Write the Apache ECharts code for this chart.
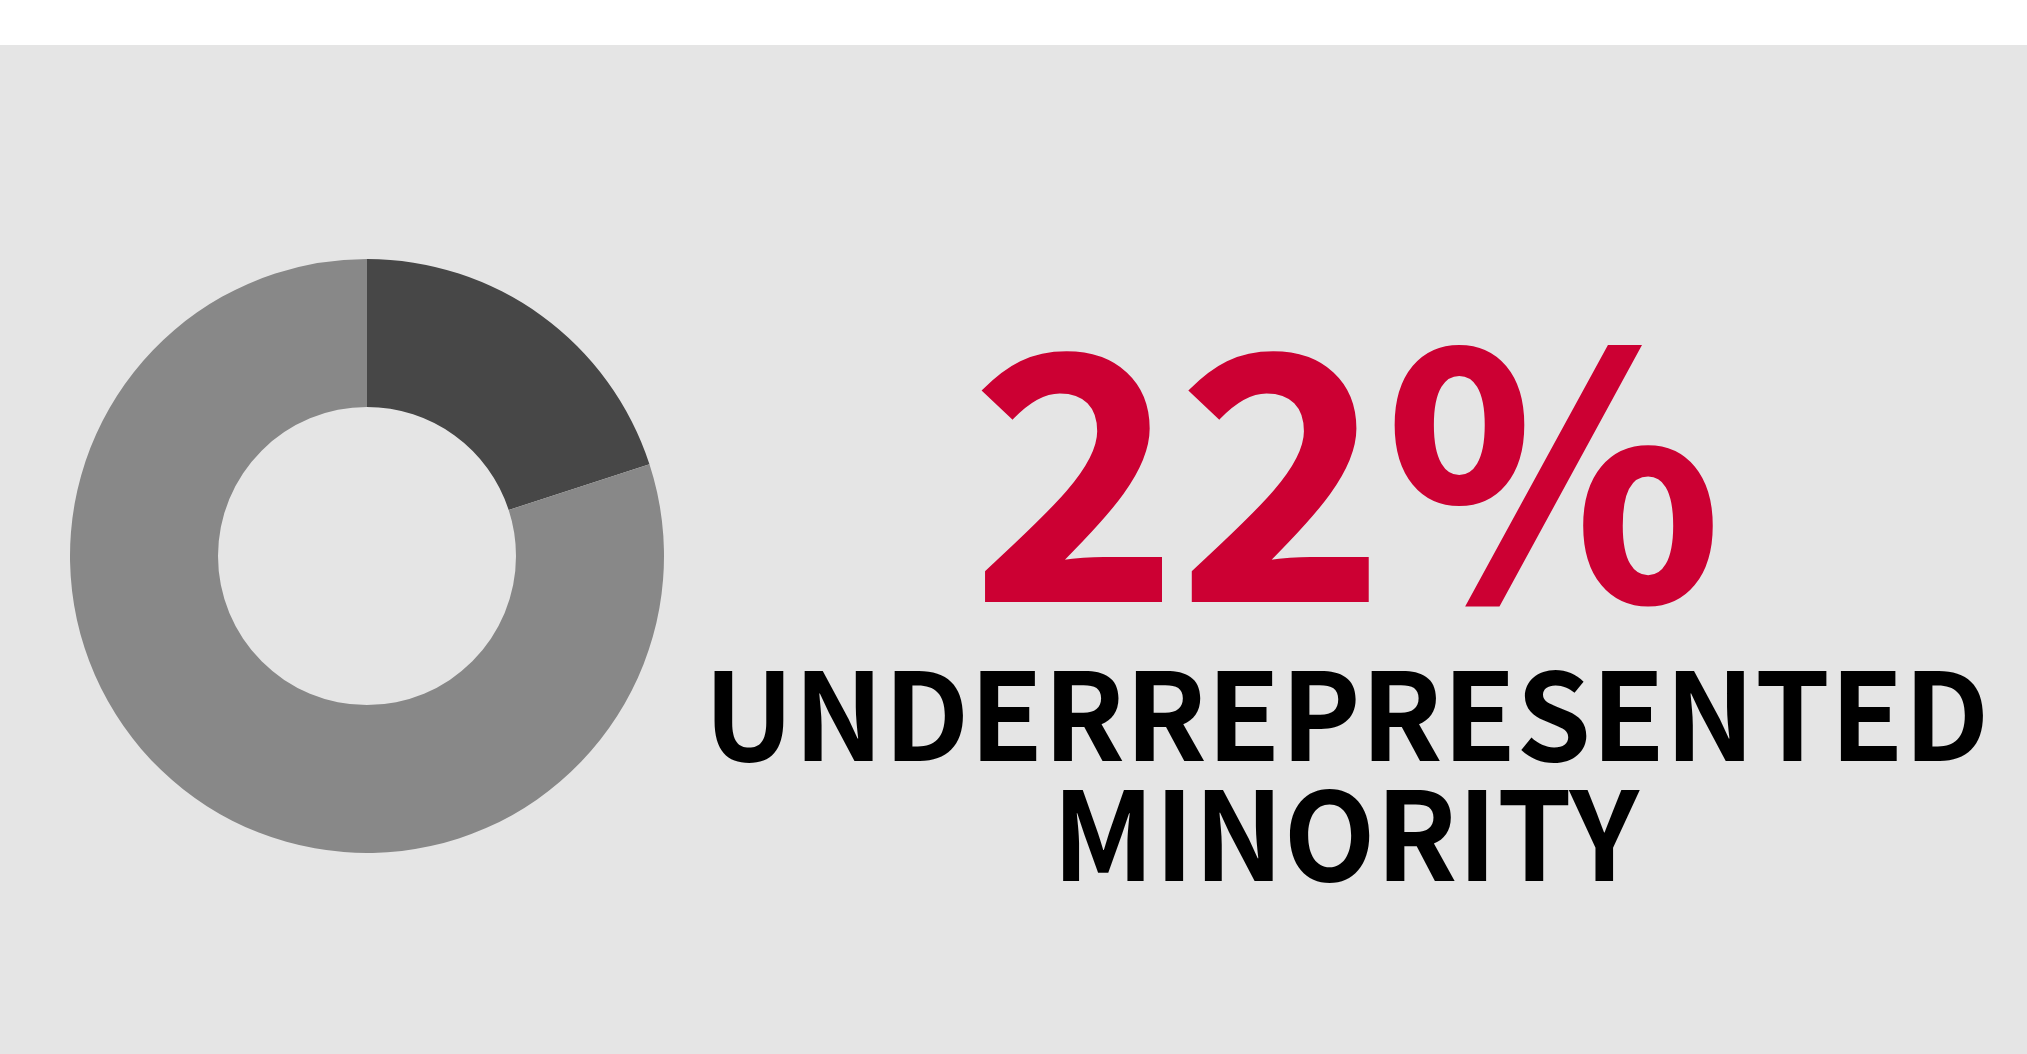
<!DOCTYPE html>
<html>
<head>
<meta charset="utf-8">
<script src="https://cdn.jsdelivr.net/npm/echarts@6/dist/echarts.min.js"></script>
<style>
html,body{margin:0;padding:0;width:100%;height:100%;background:#ffffff;overflow:hidden;}
#chart{width:2027px;height:1054px;}
</style>
</head>
<body>
<div id="chart"></div>
<script>
// Data
var categories = ['Underrepresented minority', 'Other'];
var values = [20, 80];
var sliceColors = ['#474747', '#888888'];
var headline = '22%';
var captionLines = ['UNDERREPRESENTED', 'MINORITY'];

var FAMILY = '"Noto Sans CJK SC", "Source Sans Pro", "Noto Sans", sans-serif';

// Fit a text's ink box into a target box (layout only)
function fitText(text, box, color, weight, stroke) {
  stroke = stroke || 0;
  var c = document.createElement('canvas').getContext('2d');
  c.font = weight + ' 100px ' + FAMILY;
  c.textBaseline = 'middle';
  c.textAlign = 'left';
  var m = c.measureText(text);
  var inkH = m.actualBoundingBoxAscent + m.actualBoundingBoxDescent;
  var fs = 100 * (box.bottom - box.top - stroke) / inkH;
  var font = weight + ' ' + fs + 'px ' + FAMILY;
  c.font = font;
  m = c.measureText(text);
  var inkW = m.actualBoundingBoxLeft + m.actualBoundingBoxRight;
  var s = (box.right - box.left - stroke) / inkW;
  var x = box.left + stroke / 2 + m.actualBoundingBoxLeft * s;
  var y = box.top + stroke / 2 + m.actualBoundingBoxAscent;
  var style = {text: text, fill: color, font: font, align: 'left', verticalAlign: 'middle'};
  if (stroke) { style.stroke = color; style.lineWidth = stroke; style.lineJoin = 'miter'; }
  return {type: 'text', x: x, y: y, scaleX: s, silent: true, style: style};
}

function render() {
  var chart = echarts.init(document.getElementById('chart'), null, {renderer: 'canvas'});
  var option = {
    backgroundColor: '#e5e5e5',
    animation: false,
    graphic: [
      {type: 'rect', shape: {x: 0, y: 0, width: 2027, height: 45}, style: {fill: '#ffffff'}, silent: true},
      fitText(headline, {left: 981, right: 1715, top: 341, bottom: 600}, '#cc0033', 'bold', 3),
      fitText(captionLines[0], {left: 714, right: 1983, top: 670, bottom: 762}, '#000000', 'bold', 0),
      fitText(captionLines[1], {left: 1063, right: 1640, top: 789, bottom: 882}, '#000000', 'bold', 0)
    ],
    series: [{
      type: 'pie',
      center: [367, 556],
      radius: [149, 297],
      startAngle: 90,
      clockwise: true,
      silent: true,
      label: {show: false},
      labelLine: {show: false},
      itemStyle: {borderWidth: 0},
      data: categories.map(function (c, i) {
        return {name: c, value: values[i], itemStyle: {color: sliceColors[i]}};
      })
    }]
  };
  chart.setOption(option);
}

if (document.fonts && document.fonts.load) {
  document.fonts.load('bold 100px "Noto Sans CJK SC"', 'UNDERPSTMIOY2%').then(render, render);
} else {
  render();
}
</script>
</body>
</html>
